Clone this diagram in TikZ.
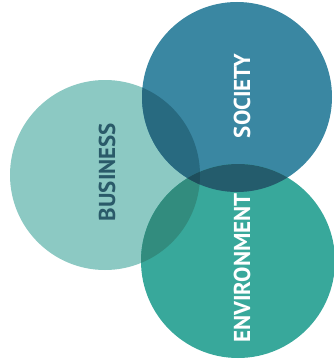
\documentclass[tikz,border=0pt]{standalone}
\usepackage{fontspec}
\setsansfont{PT Sans}
\definecolor{bizcol}{RGB}{140,201,195}
\definecolor{soccol}{RGB}{58,135,162}
\definecolor{envcol}{RGB}{56,168,155}
\definecolor{bizsoc}{RGB}{40,106,128}
\definecolor{bizenv}{RGB}{50,140,126}
\definecolor{socenv}{RGB}{36,92,108}
\definecolor{allcol}{RGB}{30,78,92}
\definecolor{bizink}{RGB}{42,90,105}
\tikzset{
  area/.style={font=\sffamily\bfseries\fontsize{23}{23}\selectfont, rotate=90, inner sep=0pt},
}
\begin{document}
\begin{tikzpicture}[x=1pt,y=-1pt]
  \useasboundingbox (0,0) rectangle (333,361);
  % the three circles
  \fill[bizcol] (105,175) circle (95);
  \fill[soccol] (237,97) circle (95);
  \fill[envcol] (238,261) circle (97);
  % overlaps
  \begin{scope}
    \clip (105,175) circle (95);
    \fill[bizsoc] (237,97) circle (95);
    \fill[bizenv] (238,261) circle (97);
  \end{scope}
  \begin{scope}
    \clip (237,97) circle (95);
    \fill[socenv] (238,261) circle (97);
    \clip (105,175) circle (95);
    \fill[allcol] (238,261) circle (97);
  \end{scope}
  % labels
  \node[area, text=bizink] (business) at (107,172) {BUSINESS};
  \node[area, text=white] (society) at (242,96) {SOCIETY};
  \node[area, text=white] (environment) at (242,268) {ENVIRONMENT};
\end{tikzpicture}
\end{document}
